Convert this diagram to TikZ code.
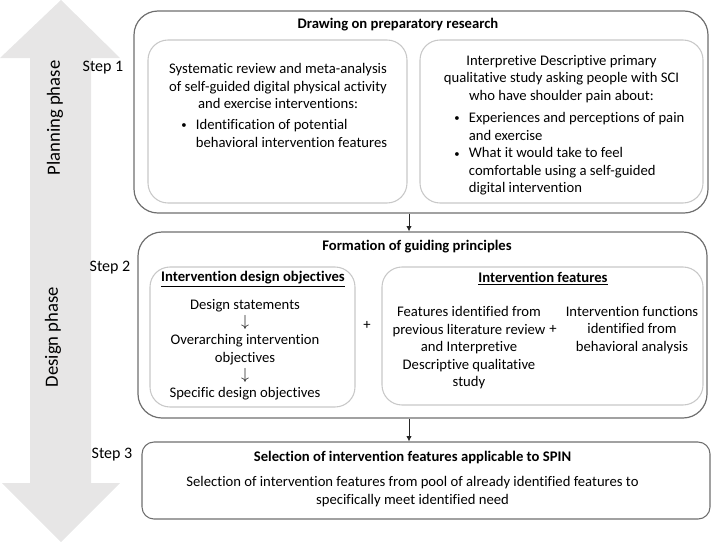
\documentclass[tikz,border=0pt]{standalone}
\usepackage{fontspec}
\setmainfont{Carlito}[Ligatures=NoCommon]
\usetikzlibrary{arrows.meta,positioning,calc}
\definecolor{phasegray}{HTML}{E7E6E6}
\definecolor{outergray}{HTML}{6E6E6E}
\definecolor{innergray}{HTML}{C8C8C8}
\newcommand{\smallbullet}{\raisebox{0.5pt}{\fontsize{8}{8}\selectfont\textbullet}}
\newcommand{\thendown}{{\fontsize{12}{13.2}\selectfont$\downarrow$}}

\begin{document}
\begin{tikzpicture}[x=0.75pt, y=-0.75pt,
  every node/.style={font=\fontsize{11}{13.2}\selectfont, inner sep=0pt},
  outerbox/.style={draw=outergray, line width=0.9pt, rounded corners=18pt},
  innerbox/.style={draw=innergray, line width=0.8pt, rounded corners=15pt},
  stepbox/.style={draw=outergray, line width=0.8pt, rounded corners=9pt},
  steplabel/.style={font=\fontsize{12}{14}\selectfont},
  phaselabel/.style={font=\fontsize{14}{16}\selectfont, rotate=90},
  boxtitle/.style={font=\fontsize{11}{13.2}\selectfont\bfseries},
  link/.style={-{Latex[length=4pt,width=4pt]}, draw=black!85, line width=0.6pt}]
\useasboundingbox (0,0) rectangle (712,543);

% phase arrow
\fill[phasegray] (61,0) -- (120,58) -- (91,58) -- (91,483) -- (120,483) -- (61,542)
  -- (2,483) -- (30,483) -- (30,58) -- (0,58) -- cycle;
\node[phaselabel] (planning) at (55,118) {Planning phase};
\node[phaselabel] (design) at (53,337) {Design phase};

% step 1
\node[outerbox, minimum width=430.5pt, minimum height=151.5pt] (box1) at (421,112) {};
\node[innerbox, minimum width=194.25pt, minimum height=122.25pt] (review) at (277.5,121.5) {};
\node[innerbox, minimum width=212.25pt, minimum height=122.25pt] (study) at (561.5,121.5) {};
\node[steplabel] (step1) at (103,68) {Step 1};
\node[boxtitle] (title1) at (398,25) {Drawing on preparatory research};
\node[anchor=north, align=center] (reviewtext) at (278,63)
  {Systematic review and meta-analysis\\of self-guided digital physical activity\\and exercise interventions:};
\node[anchor=north west] (reviewlist) at (181,117)
  {\begin{tabular}{@{}l@{\hspace{7pt}}l@{}}
   \smallbullet & Identification of potential\\ & behavioral intervention features
   \end{tabular}};
\node[anchor=north, align=center] (studytext) at (561.5,55)
  {Interpretive Descriptive primary\\qualitative study asking people with SCI\\who have shoulder pain about:};
\node[anchor=north west] (studylist) at (454,110)
  {\begin{tabular}{@{}l@{\hspace{7pt}}l@{}}
   \smallbullet & Experiences and perceptions of pain\\ & and exercise\\
   \smallbullet & What it would take to feel\\ & comfortable using a self-guided\\ & digital intervention
   \end{tabular}};

% step 2
\node[outerbox, minimum width=426.75pt, minimum height=139.5pt] (box2) at (422.5,325) {};
\node[innerbox, minimum width=153.75pt, minimum height=105pt] (objectives) at (252.5,337) {};
\node[innerbox, minimum width=240.75pt, minimum height=103.5pt] (features) at (542.5,336) {};
\node[steplabel] (step2) at (110,268) {Step 2};
\node[boxtitle] (title2) at (417,247) {Formation of guiding principles};
\node[boxtitle] (objtitle) at (253,279) {\underline{Intervention design objectives}};
\node[anchor=north, align=center] (objtext) at (245,299)
  {Design statements\\\thendown\\Overarching intervention\\objectives\\\thendown\\Specific design objectives};
\node (plusa) at (367,325) {+};
\node[boxtitle] (feattitle) at (543,279) {\underline{Intervention features}};
\node[anchor=north, align=center] (feattext) at (469,306)
  {Features identified from\\previous literature review\\and Interpretive\\Descriptive qualitative\\study};
\node (plusb) at (553,329) {+};
\node[anchor=north, align=center] (functext) at (632,306)
  {Intervention functions\\identified from\\behavioral analysis};

% step 3
\node[stepbox, minimum width=426pt, minimum height=57.75pt] (box3) at (426,480.5) {};
\node[steplabel] (step3) at (112,455) {Step 3};
\node[boxtitle] (title3) at (412.5,457) {Selection of intervention features applicable to SPIN};
\node[anchor=north, align=center] (selecttext) at (412.5,476)
  {Selection of intervention features from pool of already identified features to\\specifically meet identified need};

% connectors
\coordinate (spine) at (409,0);
\draw[link] (spine |- box1.south) -- (spine |- box2.north);
\draw[link] (spine |- box2.south) -- (spine |- box3.north);
\end{tikzpicture}
\end{document}
